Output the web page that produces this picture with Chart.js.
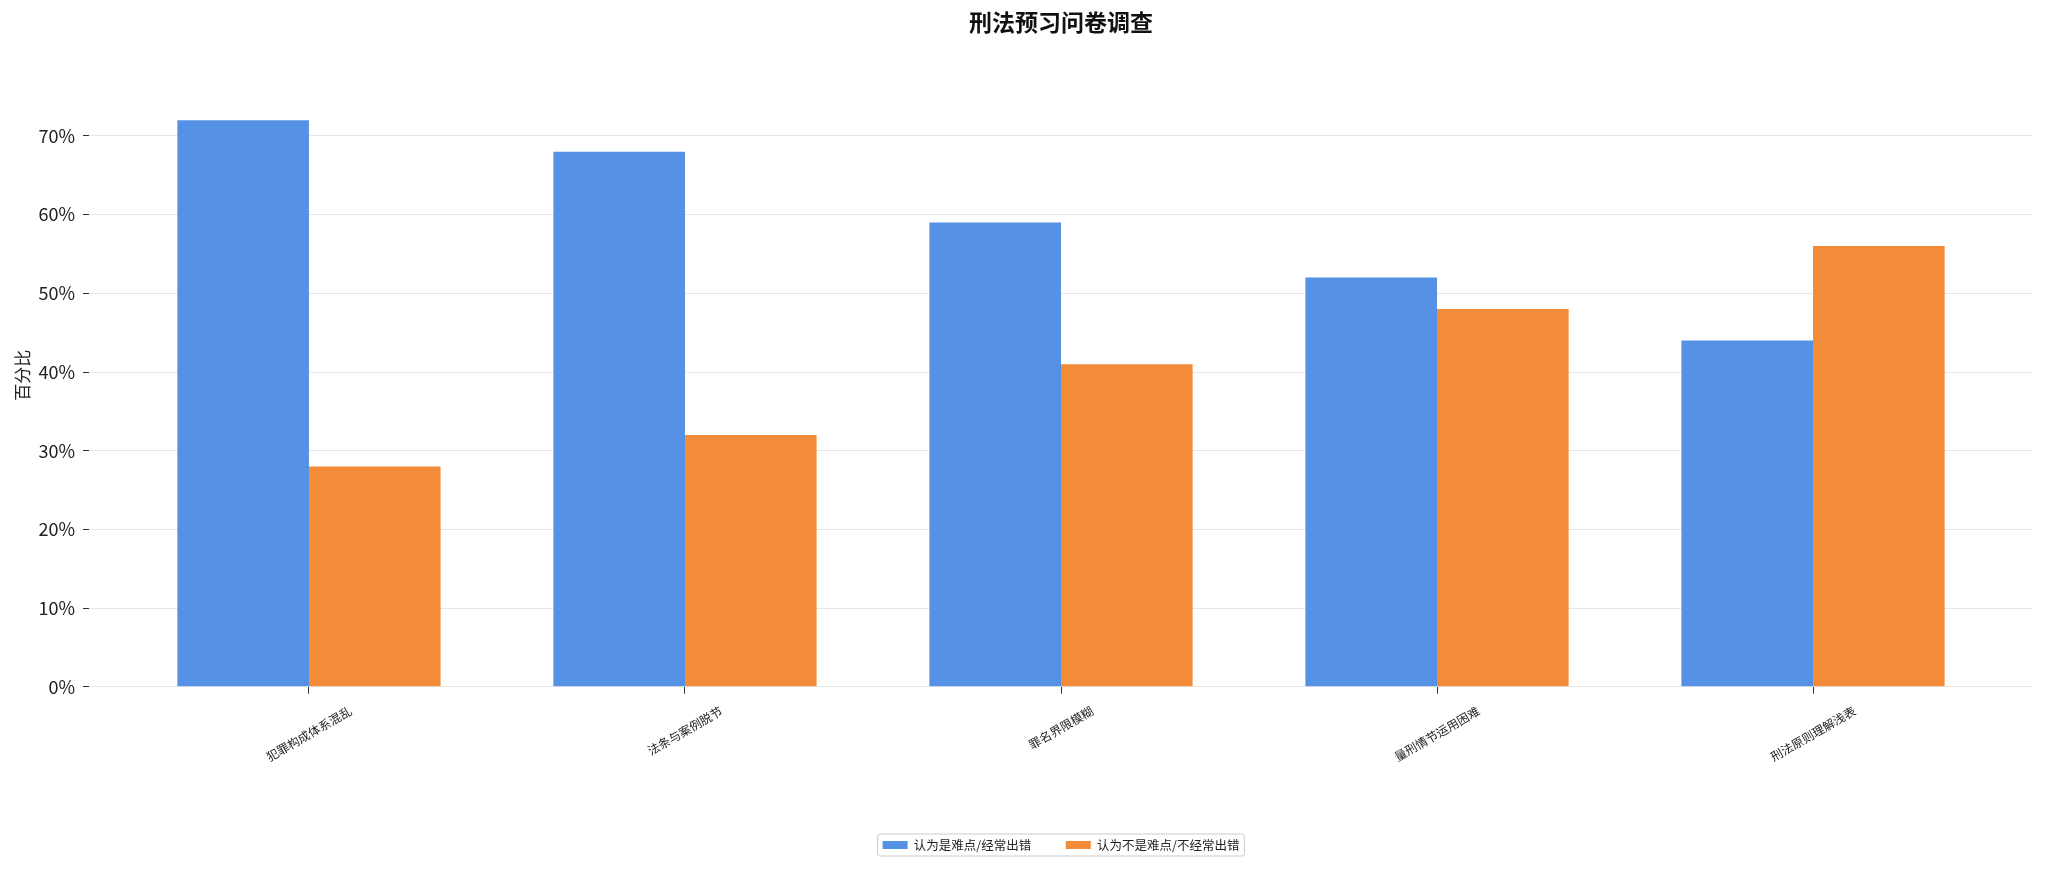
<!DOCTYPE html>
<html>
<head>
<meta charset="utf-8">
<script src="https://cdn.jsdelivr.net/npm/chart.js@4.4.1/dist/chart.umd.min.js"></script>
<style>
html,body{margin:0;padding:0;background:#fff;}
canvas{display:block;}
</style>
</head>
<body>
<canvas id="c" width="2048" height="870"></canvas>
<script>
const chartTitle = '刑法预习问卷调查';
const yAxisTitle = '百分比';
const categories = ['犯罪构成体系混乱', '法条与案例脱节', '罪名界限模糊', '量刑情节运用困难', '刑法原则理解浅表'];
const seriesNames = ['认为是难点/经常出错', '认为不是难点/不经常出错'];
const difficultValues = [72, 68, 59, 52, 44];
const notDifficultValues = [28, 32, 41, 48, 56];
const yTickValues = [0, 10, 20, 30, 40, 50, 60, 70];
const colors = ['#5591e5', '#f28c39'];

const FONT = "'Noto Sans CJK SC', 'Noto Sans', sans-serif";
Chart.defaults.font.family = FONT;
Chart.defaults.color = '#222';

const xLabelPlugin = {
  id: 'xLabels',
  afterDraw(chart) {
    const ctx = chart.ctx;
    const xs = chart.scales.x;
    const ang = 30 * Math.PI / 180;
    const fs = 12;
    ctx.save();
    ctx.font = fs + 'px ' + FONT;
    ctx.fillStyle = '#222';
    ctx.textAlign = 'center';
    ctx.textBaseline = 'middle';
    const top = chart.chartArea.bottom + 18;
    categories.forEach((lab, i) => {
      const x = xs.getPixelForValue(i);
      const L = ctx.measureText(lab).width;
      const h = L * Math.sin(ang) + fs * Math.cos(ang);
      const cy = top + h / 2;
      ctx.save();
      ctx.translate(x, cy);
      ctx.rotate(-ang);
      ctx.fillText(lab, 0, 0);
      ctx.restore();
    });
    ctx.restore();
  }
};

const legendFramePlugin = {
  id: 'legendFrame',
  afterDraw(chart) {
    const lg = chart.legend;
    if (!lg || !lg.legendHitBoxes || !lg.legendHitBoxes.length) return;
    const hb = lg.legendHitBoxes;
    const first = hb[0], last = hb[hb.length - 1];
    const left = first.left - 5;
    const right = last.left + last.width + 5;
    const cy = first.top + first.height / 2;
    const top = cy - 11, bottom = cy + 11;
    const r = 3;
    const ctx = chart.ctx;
    ctx.save();
    ctx.strokeStyle = '#cccccc';
    ctx.lineWidth = 1;
    ctx.beginPath();
    ctx.moveTo(left + r, top);
    ctx.lineTo(right - r, top);
    ctx.arcTo(right, top, right, top + r, r);
    ctx.lineTo(right, bottom - r);
    ctx.arcTo(right, bottom, right - r, bottom, r);
    ctx.lineTo(left + r, bottom);
    ctx.arcTo(left, bottom, left, bottom - r, r);
    ctx.lineTo(left, top + r);
    ctx.arcTo(left, top, left + r, top, r);
    ctx.closePath();
    ctx.stroke();
    ctx.restore();
  }
};

new Chart(document.getElementById('c'), {
  type: 'bar',
  data: {
    datasets: [
      {
        label: seriesNames[0],
        data: difficultValues.map((v, i) => ({x: i, y: v})),
        backgroundColor: colors[0],
        borderWidth: 0,
        categoryPercentage: 0.7,
        barPercentage: 1.0
      },
      {
        label: seriesNames[1],
        data: notDifficultValues.map((v, i) => ({x: i, y: v})),
        backgroundColor: colors[1],
        borderWidth: 0,
        categoryPercentage: 0.7,
        barPercentage: 1.0
      }
    ]
  },
  options: {
    responsive: false,
    animation: false,
    devicePixelRatio: 1,
    layout: { padding: { left: 0, right: 15, top: 0, bottom: 8.75 } },
    plugins: {
      title: {
        display: true,
        text: chartTitle,
        fullSize: false,
        font: { size: 23, weight: '600', family: FONT },
        color: '#111',
        padding: { top: 8, bottom: 28 }
      },
      legend: {
        display: true,
        position: 'bottom',
        fullSize: false,
        labels: {
          boxWidth: 25,
          boxHeight: 8,
          padding: 34.5,
          font: { size: 12.5, family: FONT },
          color: '#222'
        }
      },
      tooltip: { enabled: false }
    },
    scales: {
      x: {
        type: 'linear',
        min: -0.585,
        max: 4.585,
        offset: false,
        grid: {
          display: true,
          offset: false,
          drawOnChartArea: false,
          drawTicks: true,
          tickLength: 7,
          tickColor: '#333'
        },
        border: { display: false },
        ticks: { display: false },
        afterBuildTicks(s) { s.ticks = categories.map((c, i) => ({value: i})); },
        afterFit(s) { s.height = 117.55; }
      },
      y: {
        type: 'linear',
        min: 0,
        max: 79.2,
        grid: {
          color: '#e6e6e6',
          lineWidth: 1,
          tickLength: 6,
          tickColor: '#333'
        },
        border: { display: false },
        ticks: {
          padding: 8,
          font: { size: 18, family: FONT },
          color: '#222',
          callback: (v) => v + '%'
        },
        afterBuildTicks(s) { s.ticks = yTickValues.map(v => ({value: v})); },
        title: {
          display: true,
          text: yAxisTitle,
          font: { size: 17, family: FONT },
          color: '#222',
          padding: { top: 12, bottom: 0 }
        },
        afterFit(s) { s.width = 89; }
      }
    }
  },
  plugins: [xLabelPlugin, legendFramePlugin]
});
</script>
</body>
</html>
